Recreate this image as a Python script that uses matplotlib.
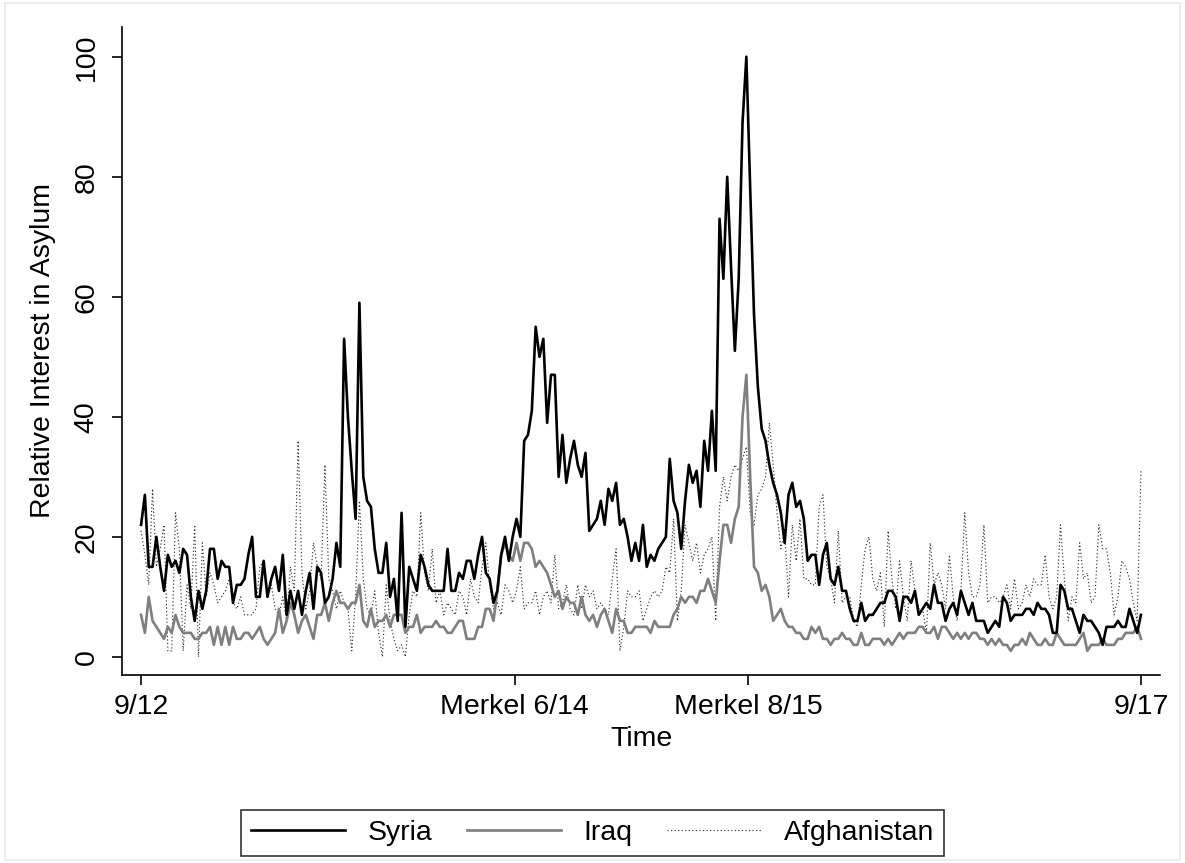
import numpy as np
import matplotlib
matplotlib.use("Agg")
import matplotlib.pyplot as plt
from matplotlib.patches import Rectangle

plt.rcParams['font.family'] = ['Liberation Sans', 'DejaVu Sans']

# weekly Google Trends index, 9/2012 - 9/2017
syria = [
    22, 27, 15, 15, 20, 15, 11, 17, 15, 16, 14, 18, 17, 10, 6, 11, 8, 11, 18, 18,
    13, 16, 15, 15, 9, 12, 12, 13, 17, 20, 10, 10,
    16, 10, 13, 15, 11, 17, 7, 11, 8, 11, 7, 11, 14, 8, 15, 14, 9, 10, 13, 19,
    15, 53, 40, 31, 23, 59, 30, 26, 25, 18, 14, 14, 19,
    10, 13, 6, 24, 5, 15, 13, 11, 17, 15, 12, 11, 11, 11, 11, 18, 11, 11, 14, 13,
    16, 16, 13, 17, 20, 14, 13, 9, 11, 17, 20, 16, 20,
    23, 20, 36, 37, 41, 55, 50, 53, 39, 47, 47, 30, 37, 29, 33, 36, 32, 30, 34, 21,
    22, 23, 26, 22, 28, 26, 29, 22, 23, 20, 16, 19, 16,
    22, 15, 17, 16, 18, 19, 20, 33, 26, 24, 18, 26, 32, 29, 31, 25, 36, 31, 41, 31,
    73, 63, 80, 65, 51, 63, 89, 100,
    78, 57, 45, 38, 36, 32, 29, 27, 24, 19, 27, 29, 25, 26, 23, 16, 17, 17, 12, 17,
    19, 13, 12, 15, 11, 11, 8, 6, 6, 9, 6, 7, 7, 8, 9, 9, 11,
    11, 10, 6, 10, 10, 9, 11, 7, 8, 9, 8, 12, 9, 9, 6, 8, 9, 7, 11, 9,
    7, 9, 6, 6, 6, 4, 5, 6, 5, 10, 9, 6, 7,
    7, 7, 8, 8, 7, 9, 8, 8, 7, 4, 4, 12, 11, 8, 8, 6, 4, 7, 6, 6,
    5, 4, 2, 5, 5, 5, 6, 5, 5, 8, 6, 4, 7,
]

iraq = [
    7, 4, 10, 6, 5, 4, 3, 5, 4, 7, 5, 4, 4, 4, 3, 3, 4, 4, 5, 2,
    5, 2, 5, 2, 5, 3, 3, 4, 4, 3, 4, 5,
    3, 2, 3, 4, 8, 4, 6, 9, 7, 4, 6, 7, 5, 3, 7, 7, 9, 6, 9, 11,
    9, 9, 8, 9, 9, 12, 6, 5, 8, 5, 6, 6, 7,
    5, 7, 7, 7, 4, 5, 5, 7, 4, 5, 5, 5, 6, 5, 5, 4, 4, 5, 6, 6,
    3, 3, 3, 5, 5, 8, 8, 6, 11, 17, 19, 17, 16,
    19, 16, 19, 19, 18, 15, 16, 15, 14, 12, 10, 11, 8, 10, 9, 9, 7, 10, 7, 6,
    7, 5, 7, 8, 6, 4, 8, 6, 6, 4, 4, 5, 5,
    5, 5, 4, 6, 5, 5, 5, 5, 7, 8, 10, 9, 10, 10, 9, 11, 11, 13, 11, 9,
    16, 22, 22, 19, 23, 25, 40, 47,
    30, 15, 14, 11, 12, 10, 6, 7, 8, 6, 5, 5, 4, 4, 3, 3, 5, 4, 5, 3,
    3, 2, 3, 3, 4, 3, 3, 2, 2, 4, 2, 2, 3, 3, 3, 2, 3,
    2, 3, 4, 3, 4, 4, 4, 5, 5, 4, 4, 5, 3, 5, 5, 4, 3, 4, 3, 4,
    3, 4, 4, 3, 3, 2, 3, 2, 3, 2, 2, 1, 2,
    2, 3, 2, 4, 3, 2, 2, 3, 2, 2, 4, 3, 2, 2, 2, 2, 3, 4, 1, 2,
    2, 2, 3, 2, 2, 2, 3, 3, 4, 4, 4, 5, 3,
]

afghanistan = [
    21, 17, 12, 28, 15, 18, 22, 1, 1, 24, 18, 1, 12, 8, 22, 0, 19, 10, 14, 12,
    9, 10, 11, 13, 9, 8, 10, 7, 7, 7, 8, 15,
    16, 10, 12, 8, 7, 10, 6, 15, 11, 36, 14, 8, 11, 19, 15, 13, 32, 13, 11, 8,
    11, 9, 8, 1, 10, 26, 13, 8, 7, 11, 4, 0, 12,
    6, 3, 1, 2, 0, 7, 11, 10, 24, 14, 11, 18, 9, 11, 7, 9, 8, 7, 11, 10,
    7, 13, 10, 9, 15, 19, 12, 8, 9, 7, 12, 11, 9,
    11, 15, 8, 9, 9, 11, 7, 10, 11, 9, 17, 8, 9, 12, 8, 7, 12, 8, 12, 10,
    11, 8, 9, 8, 7, 13, 18, 1, 5, 11, 10, 10, 11,
    6, 8, 10, 11, 10, 11, 15, 14, 23, 6, 11, 22, 19, 16, 19, 14, 17, 18, 20, 6,
    25, 30, 26, 30, 32, 31, 33, 35,
    24, 22, 27, 28, 30, 39, 32, 24, 18, 21, 10, 22, 16, 23, 13, 13, 12, 12, 25, 27,
    15, 13, 9, 21, 9, 10, 10, 6, 5, 12, 18, 20, 13, 11, 14, 5, 21,
    13, 8, 16, 10, 6, 16, 11, 8, 8, 4, 19, 12, 14, 12, 8, 17, 10, 6, 11, 24,
    14, 10, 10, 12, 22, 9, 10, 10, 9, 10, 12, 8, 13,
    8, 9, 12, 10, 13, 12, 12, 17, 10, 8, 10, 22, 13, 6, 10, 9, 19, 13, 14, 9,
    10, 22, 18, 18, 14, 7, 10, 16, 15, 13, 9, 6, 31,
]

weeks = np.arange(len(syria))
tick_pos = [0, 97.5, 158.5, 261]
tick_labels = ["9/12", "Merkel 6/14", "Merkel 8/15", "9/17"]

fs = 20.5
fig = plt.figure(figsize=(11.85, 8.63), dpi=100)
ax = fig.add_axes([0.103, 0.218, 0.876, 0.751])

ax.plot(weeks, afghanistan, color="#333333", lw=0.85, ls=(0, (1, 2.0)),
        label="Afghanistan", zorder=1)
ax.plot(weeks, iraq, color="#7f7f7f", lw=1.9, label="Iraq", zorder=2)
ax.plot(weeks, syria, color="black", lw=1.9, label="Syria", zorder=3)

ax.set_xlim(-4.96, 266)
ax.set_ylim(-3, 105)
ax.set_yticks([0, 20, 40, 60, 80, 100])
ax.set_xticks(tick_pos)
ax.set_xticklabels(tick_labels)
for lab in ax.get_yticklabels():
    lab.set_rotation(90)
    lab.set_va("center")

ax.spines["top"].set_visible(False)
ax.spines["right"].set_visible(False)
ax.spines["left"].set_linewidth(1.2)
ax.spines["bottom"].set_linewidth(1.2)
ax.tick_params(direction="out", length=7, width=1.2, labelsize=fs)
ax.tick_params(axis="y", pad=9)
ax.tick_params(axis="x", pad=7)

ax.set_ylabel("Relative Interest in Asylum", fontsize=fs, labelpad=13)
ax.set_xlabel("Time", fontsize=fs, labelpad=4)

handles, labels = ax.get_legend_handles_labels()
order = [2, 1, 0]
leg = fig.legend([handles[i] for i in order], [labels[i] for i in order],
                 loc="lower center", bbox_to_anchor=(0.5, -0.008), ncol=3,
                 fontsize=fs, frameon=True, fancybox=False, handlelength=3.3,
                 columnspacing=1.2, handletextpad=0.8, borderpad=0.35)
leg.get_frame().set_edgecolor("black")
leg.get_frame().set_linewidth(1.2)

fig.patches.append(Rectangle((0.004, 0.003), 0.992, 0.994, transform=fig.transFigure,
                             fill=False, edgecolor="#e3eaef", lw=1.2))

fig.savefig("out.png", dpi=100)
